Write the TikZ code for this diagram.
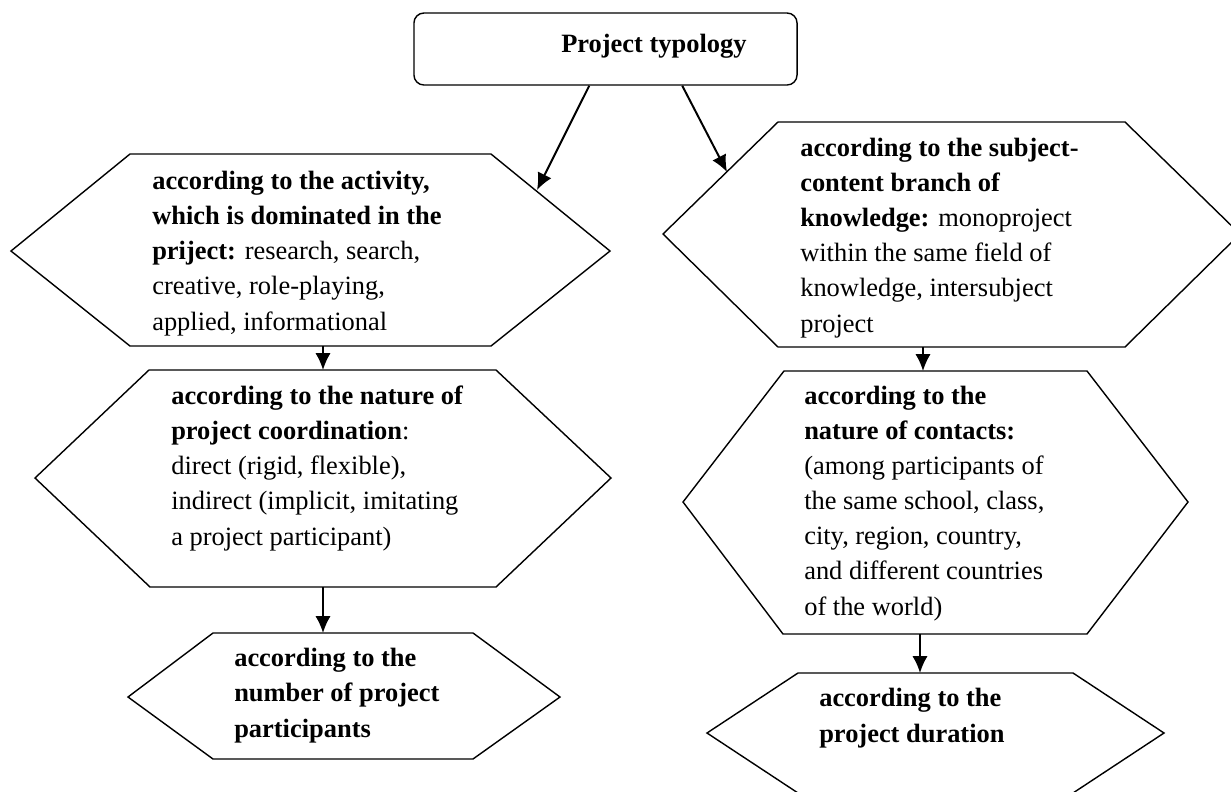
\documentclass[tikz,border=0pt]{standalone}
\usepackage{fontspec}
\setmainfont{Liberation Serif}
\usetikzlibrary{arrows.meta,calc}

\begin{document}
\begin{tikzpicture}[x=0.025cm,y=-0.025cm]
% Styles
\tikzstyle{liaison}=[-{Latex[length=4.2mm,width=3.8mm]},line width=1.4pt]
\tikzstyle{hexagone}=[draw,line width=1pt,line join=miter]
\tikzstyle{cadre}=[draw,line width=1pt,rounded corners=0.25cm,inner sep=0pt]
\tikzstyle{texte}=[anchor=base west,align=left,inner sep=0pt,font=\fontsize{18.8}{24.9}\selectfont]
% Cadre
\useasboundingbox (0,0) rectangle (1231,791);
\node[cadre,minimum width=9.575cm,minimum height=1.8cm] (T) at (605.5,49) {};
\node[texte,font=\fontsize{18.8}{24.9}\selectfont\bfseries] (titre) at (561,52) {Project typology};
% Hexagones
\draw[hexagone] (130,154) -- (491,154) -- (610,251) -- (491,346) -- (130,346) -- (11,251) -- cycle;
\draw[hexagone] (149,370) -- (496,370) -- (611,478) -- (496,587) -- (150,587) -- (35,478) -- cycle;
\draw[hexagone] (213,633) -- (473,633) -- (560,697) -- (473,759) -- (213,759) -- (128,697) -- cycle;
\draw[hexagone] (778,122) -- (1125,122) -- (1240,234) -- (1125,347) -- (778,347) -- (663,234) -- cycle;
\draw[hexagone] (784,371) -- (1087,371) -- (1188,502) -- (1087,634) -- (783,634) -- (683,502) -- cycle;
\draw[hexagone] (798,673) -- (1073,673) -- (1164,733) -- (1073,793) -- (798,793) -- (707,733) -- cycle;
% Points d'attache
\coordinate (activite-ne) at (537,190);
\coordinate (activite-s) at (323,346);
\coordinate (coordination-n) at (323,370);
\coordinate (coordination-s) at (323,587);
\coordinate (participants-n) at (323,633);
\coordinate (branche-nw) at (727,172);
\coordinate (branche-s) at (923,347);
\coordinate (contacts-n) at (923,371);
\coordinate (contacts-s) at (920,634);
\coordinate (duree-n) at (920,673);
% Textes (placés sur la ligne de base de la dernière ligne)
\node[texte] (activite) at (152,330) {\textbf{according to the activity,}\\
  \textbf{which is dominated in the}\\
  \textbf{priject:} research, search,\\
  creative, role-playing,\\
  applied, informational};
\node[texte] (coordination) at (171,545) {\textbf{according to the nature of}\\
  \textbf{project coordination}:\\
  direct (rigid, flexible),\\
  indirect (implicit, imitating\\
  a project participant)};
\node[texte,font=\fontsize{18.8}{24.9}\selectfont\bfseries] (participants) at (234,737) {according to the\\
  number of project\\
  participants};
\node[texte] (branche) at (800,332) {\textbf{according to the subject-}\\
  \textbf{content branch of}\\
  \textbf{knowledge:} monoproject\\
  within the same field of\\
  knowledge, intersubject\\
  project};
\node[texte] (contacts) at (804,615) {\textbf{according to the}\\
  \textbf{nature of contacts:}\\
  (among participants of\\
  the same school, class,\\
  city, region, country,\\
  and different countries\\
  of the world)};
\node[texte,font=\fontsize{18.8}{24.9}\selectfont\bfseries] (duree) at (819,742) {according to the\\
  project duration};
% Fleches
\draw[liaison] ($(T.south west)+(176,0)$) -- (activite-ne);
\draw[liaison] ($(T.south west)+(269,0)$) -- (branche-nw);
\draw[liaison] (activite-s) -- (coordination-n);
\draw[liaison] (coordination-s) -- (participants-n);
\draw[liaison] (branche-s) -- (contacts-n);
\draw[liaison] (contacts-s) -- (duree-n);
\end{tikzpicture}
\end{document}
